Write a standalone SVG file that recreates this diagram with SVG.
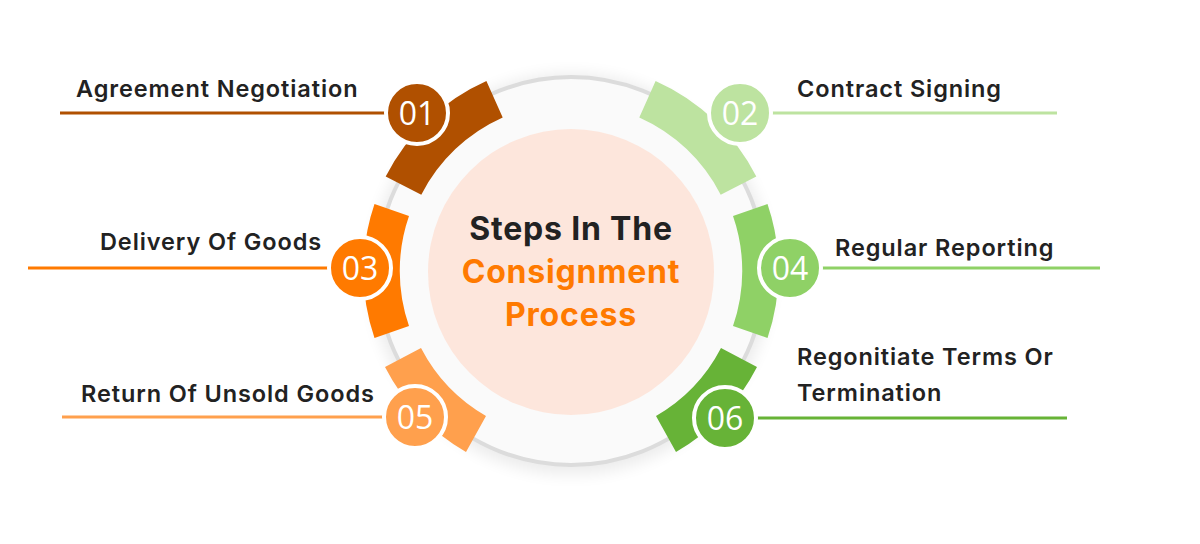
<svg xmlns="http://www.w3.org/2000/svg" width="1200" height="544" viewBox="0 0 1200 544">
<defs>
<style>
.lbl{font-family:Inter,"Open Sans",sans-serif;font-weight:600;font-size:23.5px;letter-spacing:0.9px;fill:#222}
.num{font-family:"Open Sans",Inter,sans-serif;font-weight:400;font-size:32px;fill:#fff;text-anchor:middle}
.ctr{font-family:Inter,"Open Sans",sans-serif;font-weight:700;font-size:32px;letter-spacing:0.8px;text-anchor:middle}
</style>
<filter id="sh" x="-20%" y="-20%" width="140%" height="140%"><feGaussianBlur stdDeviation="8"/></filter>
</defs>
<rect width="1200" height="544" fill="#fff"/>
<circle cx="571" cy="274" r="200" fill="#000" opacity="0.08" filter="url(#sh)"/>
<circle cx="571" cy="271" r="194" fill="#fafafa" stroke="#dcdcdc" stroke-width="4"/>
<circle cx="571" cy="272" r="143" fill="#fde6dc"/>
<g id="connectors" stroke-width="3" fill="none">
<line x1="60" y1="113" x2="417" y2="113" stroke="#B05000"/>
<line x1="740" y1="113" x2="1057" y2="113" stroke="#BDE3A0"/>
<line x1="28" y1="268" x2="360" y2="268" stroke="#FF7A00"/>
<line x1="790" y1="268" x2="1100" y2="268" stroke="#8FD166"/>
<line x1="62" y1="417" x2="415" y2="417" stroke="#FFA04D"/>
<line x1="725" y1="418" x2="1067" y2="418" stroke="#67B337"/>
</g>
<g id="n1"><path d="M 385.7 176.6 A 208 208 0 0 1 486.4 80.9 L 502.7 117.5 A 168 168 0 0 0 421.3 194.7 Z" fill="#B05000"/>
<circle cx="417" cy="113" r="31" fill="#B05000" stroke="#fff" stroke-width="4"/><text class="num" x="417" y="125">01</text>
<text class="lbl" x="76" y="97">Agreement Negotiation</text></g>
<g id="n2"><path d="M 655.6 80.9 A 208 208 0 0 1 756.3 176.6 L 720.7 194.7 A 168 168 0 0 0 639.3 117.5 Z" fill="#BDE3A0"/>
<circle cx="740" cy="113" r="31" fill="#BDE3A0" stroke="#fff" stroke-width="4"/><text class="num" x="740" y="125">02</text>
<text class="lbl" x="797" y="97">Contract Signing</text></g>
<g id="n3"><path d="M 374.5 204 A 208 208 0 0 0 374.5 338 L 409 326 A 168 168 0 0 1 409 216 Z" fill="#FF7A00"/>
<circle cx="360" cy="268" r="31" fill="#FF7A00" stroke="#fff" stroke-width="4"/><text class="num" x="360" y="280">03</text>
<text class="lbl" x="100" y="250">Delivery Of Goods</text></g>
<g id="n4"><path d="M 767.5 204 A 208 208 0 0 1 767.5 338 L 733 326 A 168 168 0 0 0 733 216 Z" fill="#8FD166"/>
<circle cx="790" cy="268" r="31" fill="#8FD166" stroke="#fff" stroke-width="4"/><text class="num" x="790" y="280">04</text>
<text class="lbl" x="835" y="256">Regular Reporting</text></g>
<g id="n5"><path d="M 385 367 A 208 208 0 0 0 466 452 L 486 416 A 168 168 0 0 1 421 348 Z" fill="#FFA04D"/>
<circle cx="415" cy="417" r="31" fill="#FFA04D" stroke="#fff" stroke-width="4"/><text class="num" x="415" y="429">05</text>
<text class="lbl" x="81" y="402">Return Of Unsold Goods</text></g>
<g id="n6"><path d="M 757 367 A 208 208 0 0 1 676 452 L 656 416 A 168 168 0 0 0 721 348 Z" fill="#67B337"/>
<circle cx="725" cy="418" r="31" fill="#67B337" stroke="#fff" stroke-width="4"/><text class="num" x="725" y="430">06</text>
<text class="lbl" x="797" y="365">Regonitiate Terms Or</text><text class="lbl" x="797" y="401">Termination</text></g>
<g id="center"><text class="ctr" x="571" y="240" fill="#222">Steps In The</text>
<text class="ctr" x="571" y="283" fill="#FF7A00">Consignment</text>
<text class="ctr" x="571" y="326" fill="#FF7A00">Process</text></g>
</svg>
